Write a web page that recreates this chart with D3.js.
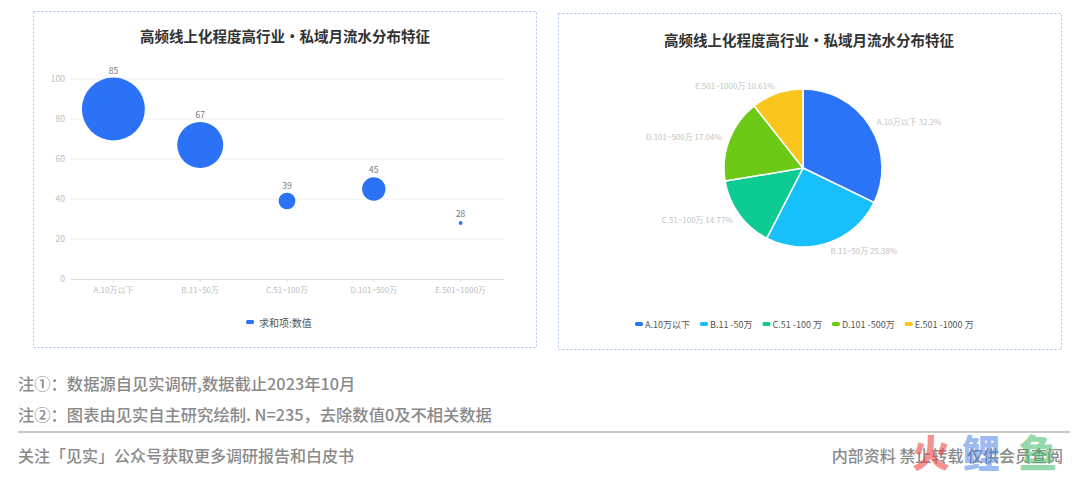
<!DOCTYPE html>
<html><head><meta charset="utf-8">
<script src="https://cdn.jsdelivr.net/npm/d3@7"></script>
<style>
html,body{margin:0;padding:0;background:#fff;}
svg{display:block;font-family:"Noto Sans CJK SC","Noto Sans",sans-serif;}
</style></head>
<body>
<svg id="c" width="1080" height="477"></svg>
<script>
// ---- data ----
const chartTitle = "高频线上化程度高行业·私域月流水分布特征";
const categories = ["A.10万以下", "B.11~50万", "C.51~100万", "D.101~500万", "E.501~1000万"];
const bubbleValues = [85, 67, 39, 45, 28];
const yTicks = [0, 20, 40, 60, 80, 100];
const bubbleLegend = "求和项:数值";
const pieShares = [32.2, 25.38, 14.77, 17.04, 10.61];
const pieLegendLabels = ["A.10万以下", "B.11 -50万", "C.51 -100 万", "D.101 -500万", "E.501 -1000 万"];
const pieColors = ["#2b74f7", "#17c0fb", "#0ccc94", "#6cca17", "#fac51c"];
const notes = ["注①：数据源自见实调研,数据截止2023年10月", "注②：图表由见实自主研究绘制. N=235，去除数值0及不相关数据"];
const footerLeft = "关注「见实」公众号获取更多调研报告和白皮书";
const footerRight = "内部资料 禁止转载 仅供会员查阅";
const watermark = ["火", "鲤", "鱼"];

const svg = d3.select("#c");
const FONT = '"Noto Sans CJK SC","Noto Sans",sans-serif';

// ---- panels ----
const panels = [{x:33.5, y:11.5, w:503, h:336}, {x:558.5, y:13.5, w:503, h:336}];
svg.selectAll("rect.panel").data(panels).join("rect").attr("class","panel")
  .attr("x", d=>d.x).attr("y", d=>d.y).attr("width", d=>d.w).attr("height", d=>d.h)
  .attr("fill","#fff").attr("stroke","#a9c3ee").attr("stroke-width",1).attr("stroke-dasharray","2,2");

// ---- bubble chart ----
const g1 = svg.append("g");
g1.append("text").attr("x", 285).attr("y", 35).attr("text-anchor","middle").attr("dominant-baseline","central")
  .attr("font-size", 14.5).attr("font-weight", 700).attr("fill", "#333").text(chartTitle);

const x = d3.scaleBand().domain(categories).range([70, 504]);
const y = d3.scaleLinear().domain([0, 100]).range([279, 79]);
const r = d3.scalePow().exponent(0.73).domain([25, 85]).range([0, 31.5]);

// grid
g1.append("g").selectAll("line").data(yTicks.filter(t=>t>0)).join("line")
  .attr("x1", 70).attr("x2", 504).attr("y1", d=>y(d)).attr("y2", d=>y(d))
  .attr("stroke", "#eeeeee").attr("stroke-width", 1);

const yAxis = g1.append("g").attr("transform","translate(70,0)")
  .call(d3.axisLeft(y).tickValues(yTicks).tickSize(0).tickPadding(5));
yAxis.select(".domain").remove();
yAxis.selectAll("text").attr("font-size", 8.5).attr("fill", "#bdbdbd").attr("font-family", FONT);

const xAxis = g1.append("g").attr("transform","translate(0,279)")
  .call(d3.axisBottom(x).tickSize(3).tickPadding(5).tickSizeOuter(0));
xAxis.select(".domain").attr("stroke", "#dcdcdc");
xAxis.selectAll("line").attr("stroke", "#dcdcdc");
xAxis.selectAll("text").attr("font-size", 8).attr("fill", "#bdbdbd").attr("font-family", FONT);

const bubbles = categories.map((c,i)=>({c, v: bubbleValues[i]}));
g1.append("g").selectAll("circle").data(bubbles).join("circle")
  .attr("cx", d=>x(d.c)+x.bandwidth()/2).attr("cy", d=>y(d.v)).attr("r", d=>r(d.v))
  .attr("fill", "#2c72f6");
g1.append("g").selectAll("text").data(bubbles).join("text")
  .attr("x", d=>x(d.c)+x.bandwidth()/2).attr("y", d=>y(d.v)-r(d.v)-4)
  .attr("text-anchor","middle").attr("font-size", 8.5).attr("fill","#777").text(d=>d.v);

// legend
const lg1 = g1.append("g").attr("transform","translate(246,322)");
lg1.append("rect").attr("x",0).attr("y",-2).attr("width",8).attr("height",4).attr("rx",1.5).attr("fill","#2c72f6");
lg1.append("text").attr("x",13).attr("y",0).attr("dominant-baseline","central").attr("font-size",10).attr("fill","#555").text(bubbleLegend);

// ---- pie chart ----
const g2 = svg.append("g");
g2.append("text").attr("x", 809).attr("y", 39).attr("text-anchor","middle").attr("dominant-baseline","central")
  .attr("font-size", 14.5).attr("font-weight", 700).attr("fill", "#333").text(chartTitle);

const cx = 803, cy = 168, R = 79;
const pie = d3.pie().sort(null).value(d=>d.v);
const slices = pie(categories.map((c,i)=>({c, v: pieShares[i], color: pieColors[i]})));
const arc = d3.arc().innerRadius(0).outerRadius(R);
const labelArc = d3.arc().innerRadius(87).outerRadius(87);
const pg = g2.append("g").attr("transform", `translate(${cx},${cy})`);
pg.selectAll("path").data(slices).join("path").attr("d", arc)
  .attr("fill", d=>d.data.color).attr("stroke","#fff").attr("stroke-width",1.5);
pg.selectAll("text").data(slices).join("text")
  .attr("transform", d=>`translate(${labelArc.centroid(d)})`)
  .attr("text-anchor", d=> labelArc.centroid(d)[0] >= 0 ? "start" : "end")
  .attr("dominant-baseline","central")
  .attr("font-size", 8).attr("fill", "#c4c4c4")
  .text(d=> `${d.data.c} ${d.data.v}%`);

// pie legend
const lg2 = g2.append("g").attr("transform","translate(635,324)");
let lx = 0;
pieLegendLabels.forEach((t,i)=>{
  const it = lg2.append("g").attr("transform", `translate(${lx},0)`);
  it.append("rect").attr("x",0).attr("y",-2).attr("width",8).attr("height",4).attr("rx",1.5).attr("fill",pieColors[i]);
  const tx = it.append("text").attr("x",10).attr("y",0).attr("dominant-baseline","central")
    .attr("font-size",9).attr("fill","#555").text(t);
  lx += 10 + tx.node().getComputedTextLength() + 10;
});

// ---- footer ----
svg.selectAll("text.note").data(notes).join("text").attr("class","note")
  .attr("x", 18).attr("y", (d,i)=> i===0 ? 383 : 414).attr("dominant-baseline","central")
  .attr("font-size", 16.3).attr("font-weight", 500).attr("fill", "#8a8a8a").text(d=>d);
svg.append("line").attr("x1",18).attr("x2",1070).attr("y1",432).attr("y2",432)
  .attr("stroke","#c8c8c8").attr("stroke-width",2);
svg.append("text").attr("x",18).attr("y",455).attr("dominant-baseline","central")
  .attr("font-size",16).attr("font-weight",500).attr("fill","#8a8a8a").text(footerLeft);
svg.append("text").attr("x",1063).attr("y",455).attr("text-anchor","end").attr("dominant-baseline","central")
  .attr("font-size",16).attr("font-weight",500).attr("fill","#8a8a8a").text(footerRight);

// watermark (logo overlapping the footer note, as in the reference)
const wmColors = ["rgba(240,70,70,0.6)", "rgba(70,130,230,0.55)", "rgba(60,180,100,0.55)"];
const wmX = [931, 981, 1038];
svg.selectAll("text.wm").data(watermark).join("text").attr("class","wm")
  .attr("x", (d,i)=>wmX[i]).attr("y", 450).attr("text-anchor","middle").attr("dominant-baseline","central")
  .attr("font-size", 38).attr("font-weight", 900).attr("fill", (d,i)=>wmColors[i]).text(d=>d);
</script>
</body></html>
